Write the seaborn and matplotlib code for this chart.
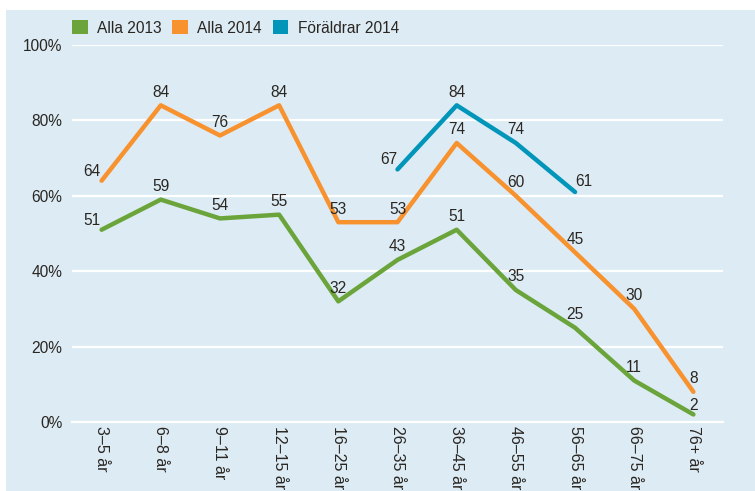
import matplotlib
matplotlib.use("Agg")
import matplotlib.pyplot as plt
from matplotlib.patches import Patch, Rectangle
from matplotlib.ticker import FuncFormatter
import numpy as np
import pandas as pd
import seaborn as sns

age_groups = ["3–5 år", "6–8 år", "9–11 år", "12–15 år", "16–25 år", "26–35 år",
              "36–45 år", "46–55 år", "56–65 år", "66–75 år", "76+ år"]
alla_2013 = [51, 59, 54, 55, 32, 43, 51, 35, 25, 11, 2]
alla_2014 = [64, 84, 76, 84, 53, 53, 74, 60, 45, 30, 8]
foraldrar_2014 = [None, None, None, None, None, 67, 84, 74, 61, None, None]

series_names = ["Alla 2013", "Alla 2014", "Föräldrar 2014"]
colors = ["#6ba43a", "#f7922f", "#0095b9"]

bg = "#dcebf4"
txt = "#2a2622"
fs = 11.2

sns.set_theme(style="white")
plt.rcParams["font.family"] = ["Liberation Sans", "DejaVu Sans"]

fig = plt.figure(figsize=(7.55, 4.91), dpi=100, facecolor="white")
fig.patches.append(Rectangle((6 / 755, 0), 1, 1 - 10 / 491, transform=fig.transFigure,
                             facecolor=bg, edgecolor="none", zorder=-10))
ax = fig.add_axes([72 / 755, 1 - 422 / 491, (723 - 72) / 755, (422 - 45) / 491])
ax.set_facecolor(bg)

x = np.arange(len(age_groups))
frames = []
for name, vals in zip(series_names, [alla_2013, alla_2014, foraldrar_2014]):
    frames.append(pd.DataFrame({"x": x, "value": vals, "serie": name}))
df = pd.concat(frames).dropna()

# white grid first
for v in [0, 20, 40, 60, 80, 100]:
    ax.axhline(v, color="white", lw=1.6, zorder=1)

sns.lineplot(data=df, x="x", y="value", hue="serie", palette=colors,
             hue_order=series_names, lw=3.2, ax=ax, legend=False, zorder=3,
             solid_capstyle="round")

# label offsets (points)
special = {("Alla 2013", 0): (-7, 1), ("Alla 2014", 0): (-7, 1),
           ("Föräldrar 2014", 5): (-6, 2), ("Föräldrar 2014", 8): (6, 2),
           ("Alla 2013", 10): (0, 1)}
for name, vals in zip(series_names, [alla_2013, alla_2014, foraldrar_2014]):
    for i, v in enumerate(vals):
        if v is None:
            continue
        off = special.get((name, i), (0, 4))
        ax.annotate(str(v), (i, v), xytext=off, textcoords="offset points",
                    ha="center", va="bottom", fontsize=fs, color=txt, zorder=4)

ax.set_xlim(-0.5, len(age_groups) - 0.5)
ax.set_ylim(0, 100)
ax.set_xticks(x)
ax.set_xticklabels(age_groups, rotation=270, fontsize=11.5, color=txt)
ax.set_xticks(np.arange(-0.5, len(age_groups)), minor=True)
ax.tick_params(axis="x", which="major", length=0, pad=3)
ax.tick_params(axis="x", which="minor", length=7, width=1.6, color="white")
ax.set_yticks([0, 20, 40, 60, 80, 100])
ax.yaxis.set_major_formatter(FuncFormatter(lambda v, p: f"{int(v)}%"))
ax.tick_params(axis="y", length=0, pad=7, labelsize=fs, labelcolor=txt)
for lbl in ax.get_xticklabels():
    lbl.set_va("top")
ax.set_xlabel("")
ax.set_ylabel("")
for s in ["top", "right", "left"]:
    ax.spines[s].set_visible(False)
ax.spines["bottom"].set_color("white")
ax.spines["bottom"].set_linewidth(1.6)

handles = [Patch(facecolor=c, edgecolor="none", label=n) for n, c in zip(series_names, colors)]
fig.legend(handles=handles, loc="center left", bbox_to_anchor=(58 / 755, 1 - 28 / 491),
           ncol=3, frameon=False, fontsize=fs, handlelength=1.0, handleheight=1.0,
           handletextpad=0.6, columnspacing=0.7, labelcolor=txt)

fig.savefig("out.png", dpi=100, facecolor="white")
